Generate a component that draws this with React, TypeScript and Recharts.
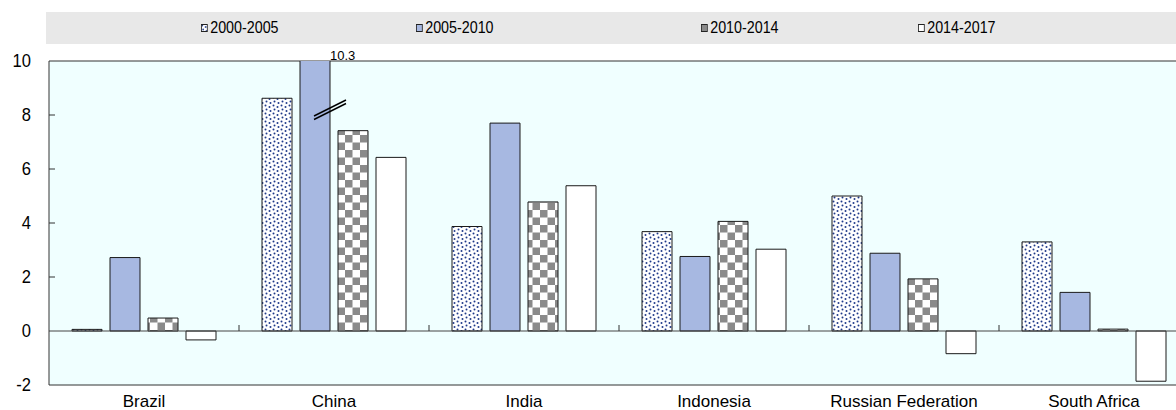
import React from 'react';
import { BarChart, Bar, XAxis, YAxis, CartesianGrid, ReferenceLine, LabelList } from 'recharts';

// growth by period, %
const countries = ['Brazil', 'China', 'India', 'Indonesia', 'Russian Federation', 'South Africa'];
const p2000_2005 = [0.06, 8.62, 3.87, 3.68, 5.0, 3.3];
const p2005_2010 = [2.72, 10.3, 7.7, 2.76, 2.88, 1.43];
const p2010_2014 = [0.48, 7.42, 4.78, 4.06, 1.93, 0.07];
const p2014_2017 = [-0.33, 6.43, 5.38, 3.03, -0.84, -1.86];
const yTicks = [-2, 0, 2, 4, 6, 8, 10];
const Y_MIN = -2;
const Y_MAX = 10;

const series = [
  { key: 'a', name: '2000-2005', values: p2000_2005, fill: 'url(#dots)' },
  { key: 'b', name: '2005-2010', values: p2005_2010, fill: '#a7b8e1' },
  { key: 'c', name: '2010-2014', values: p2010_2014, fill: 'url(#checks)' },
  { key: 'd', name: '2014-2017', values: p2014_2017, fill: '#ffffff' },
];

const data = countries.map((name, i) => {
  const row: any = { name };
  series.forEach(s => { row[s.key] = s.values[i]; });
  return row;
});

const FONT = "'Liberation Sans', Arial, sans-serif";
const W = 1200;
const H = 410;
const PLOT_TOP = 61;
const PLOT_LEFT = 49;
const PLOT_H = 324;
const ZERO_Y = PLOT_TOP + (Y_MAX / (Y_MAX - Y_MIN)) * PLOT_H;
const HALF_BAND = (W - 11 - PLOT_LEFT) / countries.length / 2;
const legendLeft = [201, 416, 701, 918];

const YTick = (props: any) => {
  const { y, payload } = props;
  return (
    <g>
      <text x={31} y={y} dy={6} textAnchor="end" fontFamily={FONT} fontSize={18} fill="#000" transform={`translate(31 0) scale(0.92 1) translate(-31 0)`}>{payload.value}</text>
      {payload.value !== Y_MIN && payload.value !== Y_MAX && payload.value !== 0 && (
        <line x1={PLOT_LEFT} x2={PLOT_LEFT + 6} y1={y} y2={y} stroke="#333" />
      )}
    </g>
  );
};

const XTick = (props: any) => {
  const { x, payload } = props;
  return (
    <g>
      <text x={x} y={407} textAnchor="middle" fontFamily={FONT} fontSize={17} fill="#000">{payload.value}</text>
      <line x1={x + HALF_BAND} x2={x + HALF_BAND} y1={ZERO_Y - 6} y2={ZERO_Y} stroke="#333" />
    </g>
  );
};

const BreakLabel = (props: any) => {
  const vb = props.viewBox ?? props;
  const { x, width } = vb;
  const value = props.value;
  if (value == null || value <= Y_MAX) return null;
  return (
    <g>
      <line x1={x + 14} y1={PLOT_TOP + 58.5} x2={x + 46} y2={PLOT_TOP + 42.5} stroke="#000" strokeWidth={1.4} />
      <line x1={x + 14} y1={PLOT_TOP + 55} x2={x + 46} y2={PLOT_TOP + 39} stroke="#000" strokeWidth={1.4} />
      <text x={x + width} y={PLOT_TOP - 1} fontFamily={FONT} fontSize={13} fill="#000">{value.toFixed(1)}</text>
    </g>
  );
};

const Swatch = ({ fill }: { fill: string }) => (
  <svg width={9} height={9} style={{ display: 'block' }}>
    <rect x={0.5} y={0.5} width={7} height={7} fill={fill} stroke="#222" />
  </svg>
);

export default function App() {
  return (
    <div style={{ position: 'absolute', left: 0, top: 0, width: 1176, height: H, overflow: 'hidden', background: '#fff' }}>
      <svg width={0} height={0} style={{ position: 'absolute' }}>
        <defs>
          <pattern id="dots" width={8} height={8} patternUnits="userSpaceOnUse">
            <rect width={8} height={8} fill="#fff" />
            <circle cx={1.5} cy={1.5} r={1} fill="#1f3a8a" />
            <circle cx={5.5} cy={3} r={1} fill="#1f3a8a" />
            <circle cx={2.5} cy={5.5} r={1} fill="#1f3a8a" />
            <circle cx={6.5} cy={7} r={1} fill="#1f3a8a" />
          </pattern>
          <pattern id="checks" width={15} height={15} patternUnits="userSpaceOnUse">
            <rect width={15} height={15} fill="#fff" />
            <rect width={7.5} height={7.5} fill="#8a8a8a" />
            <rect x={7.5} y={7.5} width={7.5} height={7.5} fill="#8a8a8a" />
          </pattern>
        </defs>
      </svg>
      <div style={{ position: 'absolute', left: 46, top: 12, width: 1176 - 46, height: 32, background: '#e8e8e8' }} />
      {series.map((s, i) => (
        <div key={s.key} style={{ position: 'absolute', left: legendLeft[i], top: 12, height: 32, display: 'flex', alignItems: 'center', fontFamily: FONT, fontSize: 17, color: '#000', transform: 'scaleX(0.84)', transformOrigin: 'left center' }}>
          <Swatch fill={s.fill} />
          <span style={{ marginLeft: 2 }}>{s.name}</span>
        </div>
      ))}
      <div style={{ position: 'absolute', left: 0, top: 0 }}>
        <BarChart width={W} height={H} data={data} margin={{ top: PLOT_TOP, right: 11, left: 0, bottom: 0 }} barCategoryGap={23} barGap={8}>
          <CartesianGrid vertical={false} fill="#f0ffff" stroke="#333" horizontalCoordinatesGenerator={({ offset }: any) => [offset.top]} />
          <XAxis dataKey="name" height={25} axisLine={{ stroke: '#333' }} tickLine={false} tick={<XTick />} interval={0} />
          <YAxis width={49} domain={[Y_MIN, Y_MAX]} ticks={yTicks} allowDataOverflow axisLine={{ stroke: '#333' }} tickLine={false} tick={<YTick />} />
          <ReferenceLine y={0} stroke="#444" />
          {series.map(s => (
            <Bar key={s.key} dataKey={s.key} name={s.name} fill={s.fill} stroke="#1a1a1a" strokeWidth={1} isAnimationActive={false}>
              {s.key === 'b' && <LabelList dataKey={s.key} content={<BreakLabel />} />}
            </Bar>
          ))}
        </BarChart>
      </div>
    </div>
  );
}
